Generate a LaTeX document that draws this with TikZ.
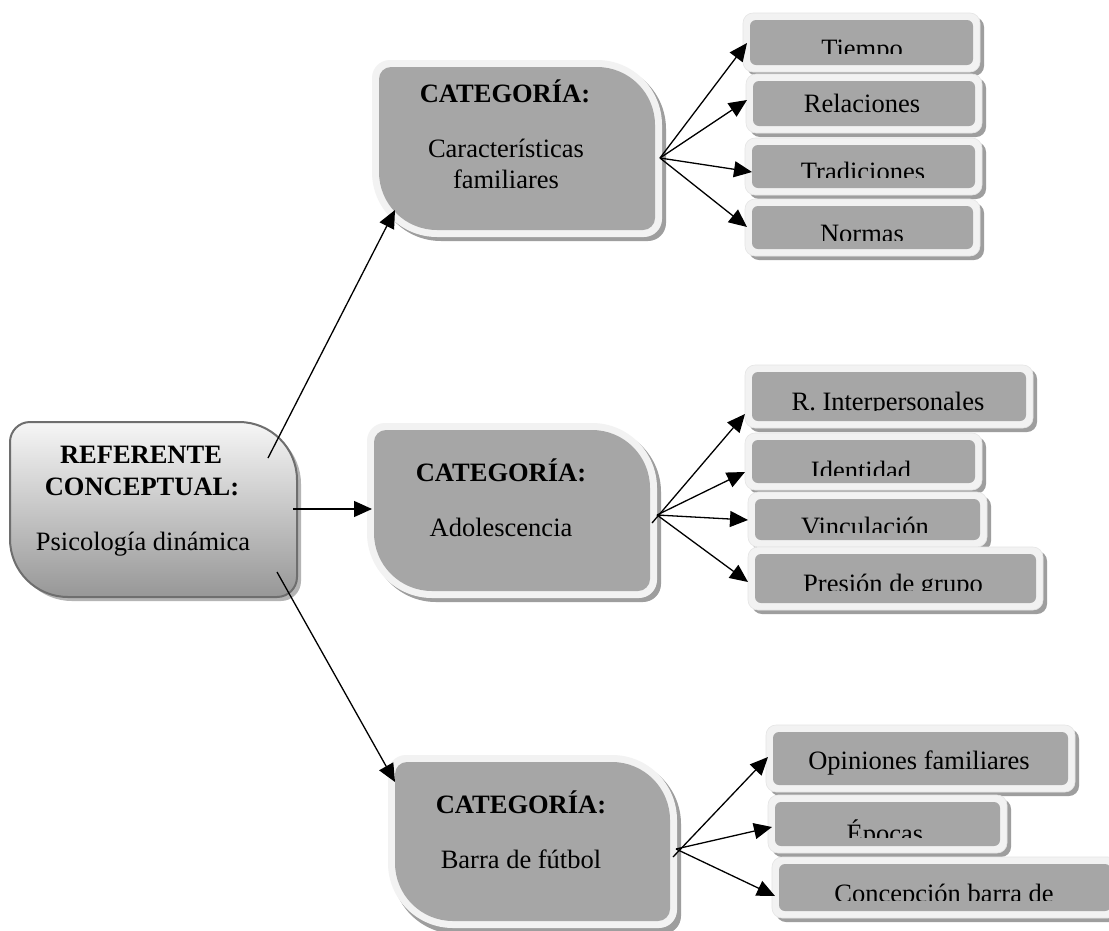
\documentclass[tikz,border=0pt]{standalone}
\usepackage{fontspec}
\setmainfont{Liberation Serif}
\usetikzlibrary{arrows.meta}
\definecolor{framec}{HTML}{F2F2F2}
\definecolor{innerc}{HTML}{A6A6A6}
\definecolor{shadowc}{HTML}{9E9E9E}
\definecolor{rootline}{HTML}{6E6E6E}
\definecolor{roottop}{HTML}{F6F6F6}
\definecolor{rootbot}{HTML}{979797}
\definecolor{rootshadow}{HTML}{B4B4B4}
% x1 y1 x2 y2 rsmall rlarge options
\newcommand\blob[7]{%
 \path[#7] (#1,{#2+#5}) .. controls (#1,{#2+0.448*#5}) and ({#1+0.448*#5},#2) .. ({#1+#5},#2)
 -- ({#3-#6},#2) .. controls ({#3-0.448*#6},#2) and (#3,{#2+0.448*#6}) .. (#3,{#2+#6})
 -- (#3,{#4-#5}) .. controls (#3,{#4-0.448*#5}) and ({#3-0.448*#5},#4) .. ({#3-#5},#4)
 -- ({#1+#6},#4) .. controls ({#1+0.448*#6},#4) and (#1,{#4-0.448*#6}) .. (#1,{#4-#6})
 -- cycle;}
% name x1 y1 x2 y2 textcx baseline clipy text
\newcommand\leaf[9]{%
 \fill[shadowc,rounded corners=10] ({#2+4},{#3+4}) rectangle ({#4+4},{#5+4});
 \fill[framec,draw=black!10,line width=0.6,rounded corners=10] (#2,#3) rectangle (#4,#5);
 \node[leafbox,minimum width={#4-#2-14},minimum height={#5-#3-14}] (#1) at ({(#2+#4)/2},{(#3+#5)/2}) {};
 \begin{scope}\clip (#2,#3) rectangle (#4,#8);
 \node[leaftext] (#1-t) at (#6,#7) {#9};\end{scope}}
\begin{document}
\begin{tikzpicture}[x=1pt,y=-1pt,
  leafbox/.style={fill=innerc,rounded corners=6,inner sep=0pt,outer sep=0pt},
  leaftext/.style={anchor=base,inner sep=0pt,font=\fontsize{26.5}{30}\selectfont},
  cattext/.style={anchor=base,inner sep=0pt,font=\fontsize{26.5}{30}\selectfont},
  boldtext/.style={anchor=base,inner sep=0pt,font=\fontsize{26.5}{30}\selectfont\bfseries},
  conn/.style={line width=1.3pt,-{Triangle[length=18pt,width=16pt]}}]
\useasboundingbox (0,0) rectangle (1109,930);
\fill[white] (0,0) rectangle (1109,930);

% ---------- root ----------
\blob{14}{426}{301}{601}{20}{58}{fill=rootshadow}
\blob{10}{422}{297}{597}{20}{58}{top color=roottop,bottom color=rootbot,draw=rootline,line width=2pt}
\node[boldtext] (rootA) at (141,463) {REFERENTE};
\node[boldtext] (rootB) at (142,495) {CONCEPTUAL:};
\node[cattext] (rootC) at (143,550) {Psicología dinámica};

% ---------- categories ----------
\blob{376}{64}{666}{241}{18}{65}{fill=shadowc}
\blob{372}{60}{662}{237}{18}{65}{fill=framec}
\blob{379}{67}{655}{230}{12}{58}{fill=innerc}
\node[boldtext] (c1a) at (505,102) {CATEGORÍA:};
\node[cattext] (c1b) at (506,157) {Características};
\node[cattext] (c1c) at (506,188) {familiares};

\blob{371}{427}{661}{602}{18}{65}{fill=shadowc}
\blob{367}{423}{657}{598}{18}{65}{fill=framec}
\blob{374}{430}{650}{591}{12}{58}{fill=innerc}
\node[boldtext] (c2a) at (501,481) {CATEGORÍA:};
\node[cattext] (c2b) at (501,536) {Adolescencia};

\blob{392}{759}{681}{934}{18}{65}{fill=shadowc}
\blob{388}{755}{677}{928}{18}{65}{fill=framec}
\blob{395}{762}{670}{921}{12}{58}{fill=innerc}
\node[boldtext] (c3a) at (521,813) {CATEGORÍA:};
\node[cattext] (c3b) at (521,868) {Barra de fútbol};

% ---------- leaves ----------
\leaf{l11}{743}{13}{980}{72}{862}{57}{53}{Tiempo}
\leaf{l12}{746}{74}{982}{133}{862}{112}{133}{Relaciones}
\leaf{l13}{745}{138}{982}{195}{863}{180}{177}{Tradiciones}
\leaf{l14}{745}{199}{980}{256}{862}{242}{240}{Normas}

\leaf{l21}{745}{365}{1033}{428}{888}{410}{410}{R. Interpersonales}
\leaf{l22}{745}{433}{982}{490}{861}{479}{475}{Identidad}
\leaf{l23}{748}{492}{987}{547}{865}{535}{532}{Vinculación}
\leaf{l24}{748}{547}{1043}{610}{893}{592}{590}{Presión de grupo}

\leaf{l31}{766}{725}{1075}{792}{919}{769}{792}{Opiniones familiares}
\leaf{l32}{768}{795}{1007}{853}{885}{842}{837}{Épocas}
\leaf{l33}{772}{857}{1118}{918}{944}{902}{900}{Concepción barra de}

% ---------- connector end points ----------
\coordinate (r1) at (268,458);
\coordinate (r2) at (293,509);
\coordinate (r3) at (277,572);
\coordinate (c1in) at (395,210);
\coordinate (c2in) at (372,509);
\coordinate (c3in) at (395,782);
\coordinate (o1) at (660,158);
\coordinate (o2) at (657,515);
\coordinate (o2b) at (652,523);
\coordinate (o3) at (676,849);
\coordinate (o3b) at (673,857);
\coordinate (t11) at (747,43);
\coordinate (t12) at (747,100);
\coordinate (t13) at (752,172);
\coordinate (t14) at (747,227);
\coordinate (t21) at (745,414);
\coordinate (t22) at (745,472);
\coordinate (t23) at (748,520);
\coordinate (t24) at (748,582);
\coordinate (t31) at (768,757);
\coordinate (t32) at (772,827);
\coordinate (t33) at (775,896);

% ---------- connectors ----------
\draw[conn] (r1) -- (c1in);
\draw[conn] (r2) -- (c2in);
\draw[conn] (r3) -- (c3in);
\draw[conn] (o1) -- (t11);
\draw[conn] (o1) -- (t12);
\draw[conn] (o1) -- (t13);
\draw[conn] (o1) -- (t14);
\draw[conn] (o2b) -- (t21);
\draw[conn] (o2) -- (t22);
\draw[conn] (o2) -- (t23);
\draw[conn] (o2) -- (t24);
\draw[conn] (o3b) -- (t31);
\draw[conn] (o3) -- (t32);
\draw[conn] (o3) -- (t33);
\end{tikzpicture}
\end{document}
